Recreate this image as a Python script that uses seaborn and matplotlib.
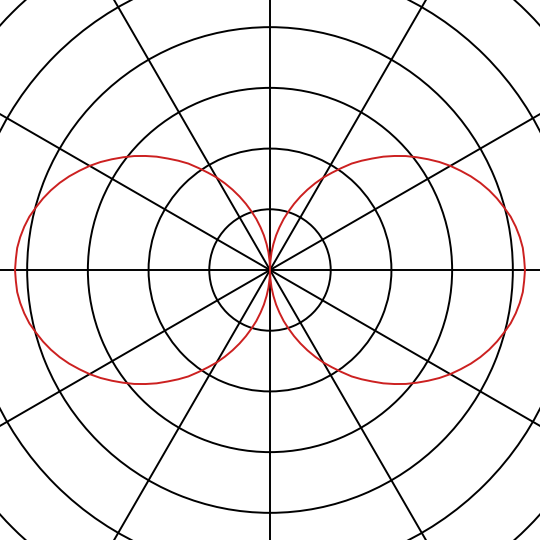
import matplotlib
matplotlib.use("Agg")
import matplotlib.pyplot as plt
import seaborn as sns
import pandas as pd
import numpy as np

# radius of the red pattern in one quarter (0..90 deg, every 2.5 deg)
quarter_r = [
    4.20, 4.19, 4.18, 4.15, 4.11, 4.06, 3.99, 3.92, 3.84, 3.75,
    3.65, 3.54, 3.43, 3.31, 3.18, 3.05, 2.92, 2.78, 2.64, 2.49,
    2.35, 2.21, 2.05, 1.90, 1.76, 1.61, 1.46, 1.31, 1.16, 1.01,
    0.87, 0.72, 0.58, 0.43, 0.29, 0.14, 0.00,
]
r_grid = [1, 2, 3, 4, 5, 6, 7]
theta_grid = list(range(0, 360, 30))

# the pattern is symmetric: mirror the quarter to get the full turn
half_r = quarter_r + quarter_r[-2::-1]
radius = half_r + half_r[1:]
angle_deg = [i * 2.5 for i in range(len(radius))]

df = pd.DataFrame({"theta": np.deg2rad(angle_deg), "r": radius})

sns.set_style("white")
fig = plt.figure(figsize=(5.4, 5.4), dpi=100)
ax = fig.add_axes([-0.287, -0.287, 1.574, 1.574], projection="polar")

sns.lineplot(data=df, x="theta", y="r", sort=False, color="#cc2020",
             linewidth=1.4, ax=ax, zorder=3)

ax.set_rlim(0, 7)
ax.set_rticks(r_grid)
ax.set_thetagrids(theta_grid)
ax.set_xticklabels([])
ax.set_yticklabels([])
ax.set_xlabel("")
ax.set_ylabel("")
ax.grid(True, color="black", linewidth=1.4)
ax.spines["polar"].set_visible(False)

fig.savefig("out.png", dpi=100)
